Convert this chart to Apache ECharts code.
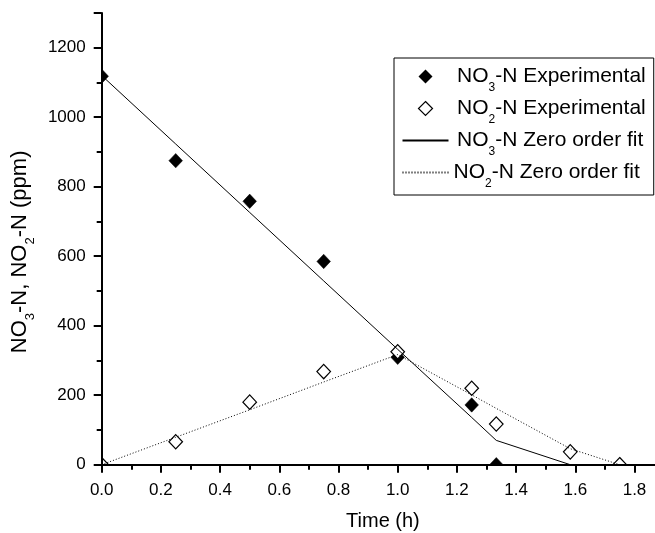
<!DOCTYPE html>
<html><head><meta charset="utf-8">
<script src="https://cdn.jsdelivr.net/npm/echarts@6/dist/echarts.min.js"></script>
<style>html,body{margin:0;padding:0;background:#fff}#c{width:655px;height:533px}</style>
</head><body><div id="c"></div>
<script>
// ---- data ----
const times   = [0, 0.25, 0.5, 0.75, 1.0, 1.25, 1.333, 1.583, 1.75];
const no3Exp  = [1118, 875, 758, 585, 309, 172, 0];
const no2Exp  = [0, 66, 180, 268, 325, 220, 117, 37, 0];
const no3Fit  = [1120, 923, 726, 529, 332, 136, 70, 0];
const no2Fit  = [0, 79, 158, 238, 317, 201, 162, 46, 0];
const seriesNames = ['NO3-N Experimental', 'NO2-N Experimental', 'NO3-N Zero order fit', 'NO2-N Zero order fit'];
const xName = 'Time (h)';
const yName = '{a|NO}{s|3}{a|-N, NO}{s|2}{a|-N (ppm)}';

const FONT = 'Liberation Sans';
const pairs = arr => arr.map((v, i) => [times[i], v]);

// diamond marker, clipped to the plotting rectangle of the grid
function diamond(fill, lw) {
  return function (params, api) {
    const p = api.coord([api.value(0), api.value(1)]);
    const hw = 6.8, hh = 7.2;
    const pts = [[p[0], p[1] - hh], [p[0] + hw, p[1]], [p[0], p[1] + hh], [p[0] - hw, p[1]]];
    const cs = params.coordSys;
    const clipped = echarts.graphic.clipPointsByRect(pts, { x: cs.x, y: cs.y, width: cs.width, height: cs.height });
    return {
      type: 'polygon',
      shape: { points: clipped },
      style: { fill: fill, stroke: '#000', lineWidth: lw }
    };
  };
}

// legend icon: diamond centred in a 46 x 14 box
const diamondIcon = 'path://M0,0M46,14M23,0L30,7L23,14L16,7Z';

const richBase = {
  a: { fontSize: 21, fontFamily: FONT, color: '#000', lineHeight: 34 },
  p: { fontSize: 21, fontFamily: FONT, color: '#000', lineHeight: 34, padding: [0, 0, 0, 3.5] },
  s: { fontSize: 12, fontFamily: FONT, color: '#000', lineHeight: 12, verticalAlign: 'bottom' }
};
const noSym = { color: 'rgba(0,0,0,0)', borderColor: 'rgba(0,0,0,0)', borderWidth: 0, opacity: 0 };

const chart = echarts.init(document.getElementById('c'), null, { renderer: 'canvas' });
chart.setOption({
  animation: false,
  backgroundColor: '#fff',
  grid: { left: 101.7, right: -9.1, top: 13, bottom: 68.3, containLabel: false, outerBoundsMode: 'none' },
  xAxis: {
    type: 'value', min: 0, max: 1.9, interval: 0.2, z: 10,
    name: xName, nameLocation: 'middle', nameGap: 47,
    nameTextStyle: { fontSize: 20, fontFamily: FONT, color: '#000', verticalAlign: 'top' },
    axisLine: { show: true, onZero: false, lineStyle: { color: '#000', width: 2 } },
    axisTick: { show: true, inside: false, length: 8, lineStyle: { color: '#000', width: 2 } },
    minorTick: { show: true, splitNumber: 2, length: 5, lineStyle: { color: '#000', width: 2 } },
    axisLabel: { fontSize: 17, fontFamily: FONT, color: '#000', margin: 17, showMaxLabel: false, formatter: v => v.toFixed(1) },
    splitLine: { show: false }
  },
  yAxis: {
    type: 'value', min: 0, max: 1300, interval: 200, z: 10,
    name: yName, nameLocation: 'middle', nameGap: 60,
    nameTextStyle: { padding: [0, 26, 0, 0], rich: {
      a: { fontSize: 22, fontFamily: FONT, color: '#000', lineHeight: 34 },
      s: { fontSize: 13, fontFamily: FONT, color: '#000', lineHeight: 13, verticalAlign: 'bottom' }
    } },
    axisLine: { show: true, onZero: false, lineStyle: { color: '#000', width: 2 } },
    axisTick: { show: true, inside: false, length: 8, lineStyle: { color: '#000', width: 2 } },
    minorTick: { show: true, splitNumber: 2, length: 5, lineStyle: { color: '#000', width: 2 } },
    axisLabel: { fontSize: 17, fontFamily: FONT, color: '#000', margin: 16, showMaxLabel: false, formatter: v => String(v) },
    splitLine: { show: false }
  },
  legend: {
    orient: 'vertical', left: 394, top: 58, padding: [8, 8, 5.5, 7.5],
    itemGap: 4.5, itemWidth: 46, itemHeight: 14,
    borderColor: '#000', borderWidth: 1, backgroundColor: '#fff',
    data: [
      { name: seriesNames[0], icon: diamondIcon, itemStyle: { color: '#000', borderWidth: 0 } },
      { name: seriesNames[1], icon: diamondIcon, itemStyle: { color: '#fff', borderColor: '#000', borderWidth: 1.2 } },
      { name: seriesNames[2], itemStyle: noSym },
      { name: seriesNames[3], itemStyle: noSym }
    ],
    formatter: function (name) {
      const m = name.match(/^NO(\d)(.*)$/);
      const first = name === seriesNames[3] ? 'a' : 'p';
      return '{' + first + '|NO}{s|' + m[1] + '}{a|' + m[2] + '}';
    },
    textStyle: { rich: richBase }
  },
  series: [
    {
      type: 'custom', name: seriesNames[0], data: pairs(no3Exp), z: 3,
      encode: { x: 0, y: 1 }, itemStyle: { color: '#000' },
      renderItem: diamond('#000', 0.5)
    },
    {
      type: 'custom', name: seriesNames[1], data: pairs(no2Exp), z: 4,
      encode: { x: 0, y: 1 }, itemStyle: { color: '#fff', borderColor: '#000' },
      renderItem: diamond('#fff', 1.2)
    },
    {
      type: 'line', name: seriesNames[2], data: pairs(no3Fit), symbol: 'none', showSymbol: false, z: 5,
      lineStyle: { color: '#000', width: 1, type: 'solid' }, itemStyle: { color: '#000' }
    },
    {
      type: 'line', name: seriesNames[3], data: pairs(no2Fit), symbol: 'none', showSymbol: false, z: 5,
      lineStyle: { color: '#000', width: 1, type: [1, 2] }, itemStyle: { color: '#000' }
    }
  ]
});
</script>
</body></html>
